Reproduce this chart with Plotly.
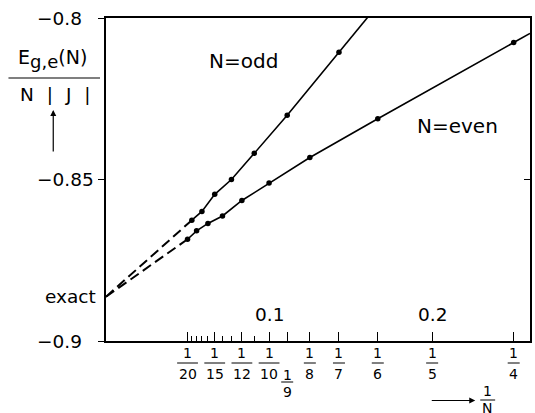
import plotly.graph_objects as go

# ---------------- data ----------------
N_even = [20, 18, 16, 14, 12, 10, 8, 6, 4]
E_even = [-0.8685, -0.8659, -0.8636, -0.8613, -0.8565, -0.8511, -0.8432, -0.8312, -0.8076]
N_odd = [19, 17, 15, 13, 11, 9, 7]
E_odd = [-0.8626, -0.8599, -0.8546, -0.8500, -0.8419, -0.8301, -0.8106]
E_exact = -0.8863

y_tick_vals = [-0.8, -0.85, -0.9]
y_tick_text = ["\u22120.8", "\u22120.85", "\u22120.9"]
x_major_N = [20, 15, 12, 10, 9, 8, 7, 6, 5, 4]
x_minor_N = [19, 18, 17, 16, 14, 13, 11]
x_lin_vals = [0.1, 0.2]
x_lin_text = ["0.1", "0.2"]

X_MAX = 0.26
FONT = "DejaVu Sans"

# plot area geometry (pixels)
L, R, T, B = 106, 3, 18, 72
W, H = 535, 413
PW, PH = W - L - R, H - T - B


def px(xp):
    return (xp - L) / PW


def py(yp):
    return (H - B - yp) / PH


x_even = [1 / n for n in N_even]
x_odd = [1 / n for n in N_odd]


def extend(xs, ys):
    # continue the line from the last two points to the right edge of the axis
    s = (ys[-1] - ys[-2]) / (xs[-1] - xs[-2])
    return [xs[-1], X_MAX], [ys[-1], ys[-1] + s * (X_MAX - xs[-1])]


fig = go.Figure()
line = dict(color="black", width=1.6)
for xs, ys in [(x_even, E_even), (x_odd, E_odd)]:
    fig.add_trace(go.Scatter(x=xs, y=ys, mode="lines+markers", line=line,
                             marker=dict(color="black", size=5.5), hoverinfo="skip"))
    ex, ey = extend(xs, ys)
    fig.add_trace(go.Scatter(x=ex, y=ey, mode="lines", line=line, hoverinfo="skip"))
    fig.add_trace(go.Scatter(x=[0, xs[0]], y=[E_exact, ys[0]], mode="lines",
                             line=dict(color="black", width=2, dash="10px,5px"), hoverinfo="skip"))

# dummy trace for right-hand mirrored axis
fig.add_trace(go.Scatter(x=[0], y=[-0.85], yaxis="y2", mode="markers",
                         marker=dict(opacity=0), hoverinfo="skip"))

fig.update_layout(
    width=W, height=H, margin=dict(l=L, r=R, t=T, b=B),
    paper_bgcolor="white", plot_bgcolor="white", showlegend=False,
    font=dict(family=FONT, color="black"),
    xaxis=dict(range=[0, X_MAX], showgrid=False, zeroline=False, showline=True,
               linecolor="black", linewidth=1.5, mirror=True,
               ticks="inside", tickvals=[1 / n for n in x_major_N], ticklen=9,
               tickcolor="black", tickwidth=1.2, showticklabels=False,
               minor=dict(tickvals=[1 / n for n in x_minor_N], ticks="inside",
                          ticklen=5, tickcolor="black", tickwidth=1.2, showgrid=False)),
    yaxis=dict(range=[-0.9, -0.8], showgrid=False, zeroline=False, showline=True,
               linecolor="black", linewidth=1.5, mirror=True,
               ticks="outside", tickvals=y_tick_vals, ticklen=6, tickcolor="black",
               tickwidth=1.2, showticklabels=False),
    yaxis2=dict(range=[-0.9, -0.8], overlaying="y", side="right", showgrid=False,
                zeroline=False, showline=False, ticks="inside", tickvals=y_tick_vals,
                ticklen=6, tickcolor="black", tickwidth=1.2, showticklabels=False),
)

ann = []
shapes = []


def text(x, y, t, size, xref="paper", yref="paper", xanchor="center"):
    ann.append(dict(x=x, xref=xref, y=y, yref=yref, text=t, showarrow=False,
                    xanchor=xanchor, yanchor="middle", font=dict(size=size)))


# y tick labels (left aligned)
for v, t in zip(y_tick_vals, y_tick_text):
    text(px(35), v, t, 18.5, yref="y", xanchor="left")
text(px(98), E_exact, "exact", 18.5, yref="y", xanchor="right")
# linear scale labels inside plot
for v, t in zip(x_lin_vals, x_lin_text):
    text(v, py(314), t, 18.5, xref="x")
# fraction tick labels
for n in x_major_N:
    low = (n == 9)
    yn, yb, yd = (374.5, 382, 392) if low else (353, 363, 373.5)
    text(1 / n, py(yn), "1", 14, xref="x")
    text(1 / n, py(yd), str(n), 14, xref="x")
    hw = max(len(str(n)) * 4.7 + 1, 6)
    shapes.append(dict(type="line", xref="x", xsizemode="pixel", xanchor=1 / n,
                       x0=-hw, x1=hw, yref="paper", y0=py(yb), y1=py(yb),
                       line=dict(color="black", width=1)))
# series labels
text(px(244.5), py(61), "N=odd", 20)
text(px(459.5), py(126), "N=even", 20)
# y-axis title as a fraction with arrow
text(px(52.5), py(59), "E<sub><span style='font-size:18px'>g,e</span></sub>(N)", 19)
shapes.append(dict(type="line", xref="paper", yref="paper", x0=px(8), x1=px(100),
                   y0=py(78), y1=py(78), line=dict(color="black", width=1.2)))
text(px(55.5), py(95), "N\u2002\u2009|\u2002\u2009J\u2002\u2009|", 18.5)
ann.append(dict(x=px(53), xref="paper", y=py(110), yref="paper", text="", showarrow=True,
                ax=0, ay=43, arrowhead=2, arrowsize=1, arrowwidth=1.2, arrowcolor="black"))
# x-axis title: arrow and 1/N
ann.append(dict(x=px(477), xref="paper", y=py(400.5), yref="paper", text="", showarrow=True,
                ax=-45, ay=0, arrowhead=2, arrowsize=1, arrowwidth=1.2, arrowcolor="black"))
text(px(489), py(391), "1", 14)
shapes.append(dict(type="line", xref="paper", yref="paper", x0=px(482), x1=px(497),
                   y0=py(400), y1=py(400), line=dict(color="black", width=1)))
text(px(489), py(408), "N", 14)

fig.update_layout(annotations=ann, shapes=shapes)
fig.write_html("out.html", config={"displayModeBar": False},
               post_script="document.body.style.margin='0';document.body.style.overflow='hidden';")
